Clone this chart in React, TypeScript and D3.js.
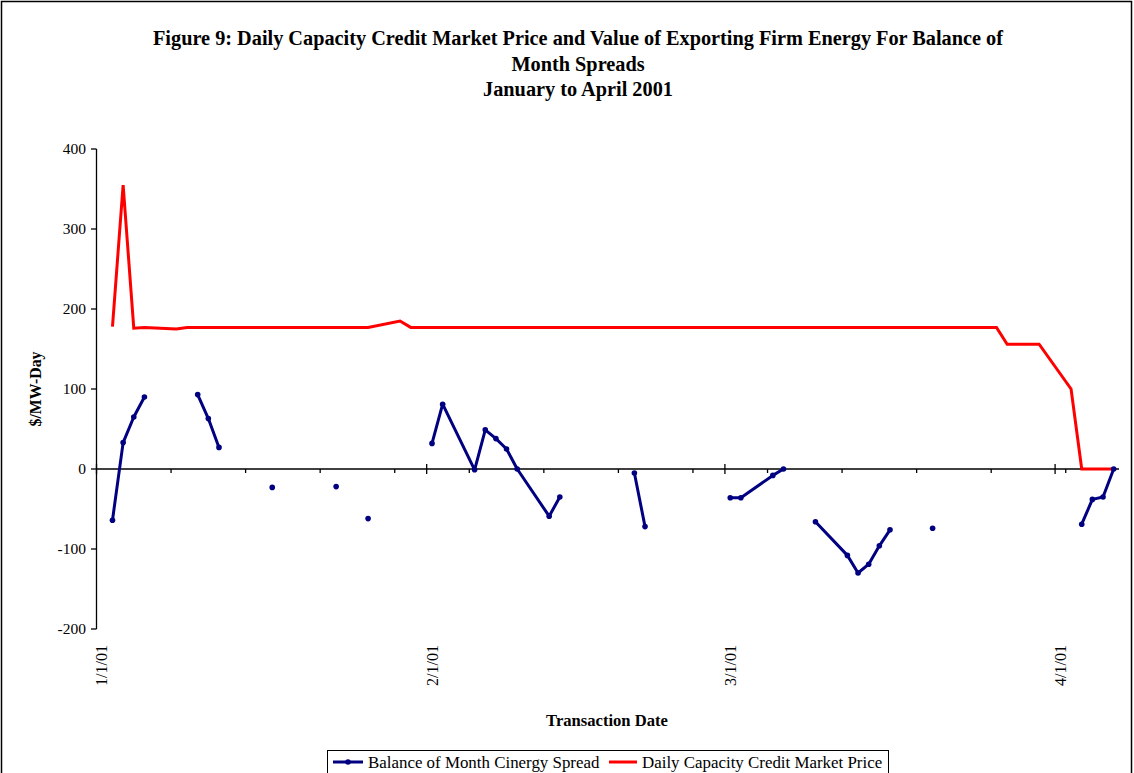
import React from 'react';
import * as d3 from 'd3';

const titleLines = [
  'Figure 9: Daily Capacity Credit Market Price and Value of Exporting Firm Energy For Balance of',
  'Month Spreads',
  'January to April 2001',
];
const yTicks = [-200, -100, 0, 100, 200, 300, 400];
const monthStarts = ['2001-01-01', '2001-02-01', '2001-03-01', '2001-04-01'];
const monthLabels = ['1/1/01', '2/1/01', '3/1/01', '4/1/01'];

const tradeDates = [
  '2001-01-02', '2001-01-03', '2001-01-04', '2001-01-05',
  '2001-01-08', '2001-01-09', '2001-01-10', '2001-01-11', '2001-01-12',
  '2001-01-15', '2001-01-16', '2001-01-17', '2001-01-18', '2001-01-19',
  '2001-01-22', '2001-01-23', '2001-01-24', '2001-01-25', '2001-01-26',
  '2001-01-29', '2001-01-30', '2001-01-31', '2001-02-01', '2001-02-02',
  '2001-02-05', '2001-02-06', '2001-02-07', '2001-02-08', '2001-02-09',
  '2001-02-12', '2001-02-13', '2001-02-14', '2001-02-15', '2001-02-16',
  '2001-02-19', '2001-02-20', '2001-02-21', '2001-02-22', '2001-02-23',
  '2001-02-26', '2001-02-27', '2001-02-28', '2001-03-01', '2001-03-02',
  '2001-03-05', '2001-03-06', '2001-03-07', '2001-03-08', '2001-03-09',
  '2001-03-12', '2001-03-13', '2001-03-14', '2001-03-15', '2001-03-16',
  '2001-03-19', '2001-03-20', '2001-03-21', '2001-03-22', '2001-03-23',
  '2001-03-26', '2001-03-27', '2001-03-28', '2001-03-29', '2001-03-30',
  '2001-04-02', '2001-04-03', '2001-04-04', '2001-04-05', '2001-04-06',
];

// Daily Capacity Credit Market Price
const priceValues: (number | null)[] = [
  178, 355, 176, 177,
  175, 177, 177, 177, 177,
  177, 177, 177, 177, 177,
  177, 177, 177, 177, 177,
  185, 177, 177, 177, 177,
  177, 177, 177, 177, 177,
  177, 177, 177, 177, 177,
  177, 177, 177, 177, 177,
  177, 177, 177, 177, 177,
  177, 177, 177, 177, 177,
  177, 177, 177, 177, 177,
  177, 177, 177, 177, 177,
  177, 156, 156, 156, 156,
  100, 0, 0, 0, 0,
];

// Balance of Month Cinergy Spread
const spreadValues: (number | null)[] = [
  -64, 33, 65, 90,
  null, null, 93, 63, 27,
  null, null, -23, null, null,
  null, -22, null, null, -62,
  null, null, null, 32, 81,
  -1, 49, 38, 25, 0,
  -59, -35, null, null, null,
  null, -5, -72, null, null,
  null, null, null, -36, -36,
  -8, 0, null, null, -66,
  -108, -130, -119, -96, -76,
  null, -74, null, null, null,
  null, null, null, null, null,
  null, -69, -38, -35, 0,
];

const seriesNames = ['Balance of Month Cinergy Spread', 'Daily Capacity Credit Market Price'];
const seriesColors = ['#000080', '#FF0000'];

const FONT = '"Liberation Serif", "Times New Roman", Times, serif';

export default function App() {
  const W = 1134;
  const H = 773;
  const parse = d3.utcParse('%Y-%m-%d');
  const start = parse('2001-01-01') as Date;
  const end = parse('2001-04-07') as Date;

  const x = d3.scaleUtc().domain([start, end]).range([96.5, 1119]);
  const y = d3.scaleLinear().domain([-200, 400]).range([629, 149]);
  const cx = (d: Date) => x(d3.utcHour.offset(d, 12));

  const dates = tradeDates.map((s) => parse(s) as Date);
  const priceData = dates.map((d, i) => ({ d, v: priceValues[i] }));
  const spreadData = dates.map((d, i) => ({ d, v: spreadValues[i] }));

  const line = d3
    .line<{ d: Date; v: number | null }>()
    .defined((p) => p.v !== null)
    .x((p) => cx(p.d))
    .y((p) => y(p.v as number));

  const y0 = y(0);
  const majorTicks = d3.utcMonth.range(start, end);
  const minorTicks = d3.utcMonday
    .range(start, end)
    .filter((d) => !majorTicks.some((m) => +m === +d));

  return (
    <svg
      width={W}
      height={H}
      style={{ position: 'absolute', left: 0, top: 0, display: 'block', background: '#fff' }}
      fontFamily={FONT}
    >
      <rect x={0} y={0} width={W} height={H} fill="#fff" />
      <rect x={1.5} y={1.5} width={1130} height={820} fill="none" stroke="#000" strokeWidth={1.5} />

      {/* Title */}
      {titleLines.map((t, i) => (
        <text
          key={i}
          x={578}
          y={45 + i * 25.5}
          textAnchor="middle"
          fontWeight="bold"
          fontSize={20.3}
          fill="#000"
        >
          {t}
        </text>
      ))}

      {/* Y axis */}
      <line x1={96.5} x2={96.5} y1={y(400)} y2={y(-200)} stroke="#000" strokeWidth={1.3} />
      {yTicks.map((t) => (
        <g key={t}>
          <line x1={91} x2={96.5} y1={y(t)} y2={y(t)} stroke="#000" strokeWidth={1.3} />
          <text x={86} y={y(t)} dy="0.35em" textAnchor="end" fontSize={15.5} fill="#000">
            {t}
          </text>
        </g>
      ))}
      <text
        transform={`translate(41, ${y(100)}) rotate(-90)`}
        textAnchor="middle"
        fontWeight="bold"
        fontSize={15.8}
        fill="#000"
      >
        $/MW-Day
      </text>

      {/* X axis */}
      <line x1={96.5} x2={1119} y1={y0} y2={y0} stroke="#000" strokeWidth={1.3} />
      {majorTicks.map((m, i) => (
        <line key={'M' + i} x1={x(m)} x2={x(m)} y1={y0 - 5} y2={y0 + 5} stroke="#000" strokeWidth={1.3} />
      ))}
      {minorTicks.map((m, i) => (
        <line key={'m' + i} x1={x(m)} x2={x(m)} y1={y0} y2={y0 + 4} stroke="#000" strokeWidth={1.3} />
      ))}
      {monthStarts.map((s, i) => {
        const d = parse(s) as Date;
        return (
          <text
            key={s}
            transform={`translate(${cx(d)}, 645) rotate(-90)`}
            textAnchor="end"
            dominantBaseline="central"
            fontSize={16}
            fill="#000"
          >
            {monthLabels[i]}
          </text>
        );
      })}
      <text x={607} y={726} textAnchor="middle" fontWeight="bold" fontSize={16.6} fill="#000">
        Transaction Date
      </text>

      {/* Series */}
      <path d={line(priceData) || ''} fill="none" stroke={seriesColors[1]} strokeWidth={3} strokeLinejoin="miter" />
      <path d={line(spreadData) || ''} fill="none" stroke={seriesColors[0]} strokeWidth={3} strokeLinejoin="round" />
      {spreadData
        .filter((p) => p.v !== null)
        .map((p, i) => (
          <circle key={i} cx={cx(p.d)} cy={y(p.v as number)} r={2.8} fill={seriesColors[0]} />
        ))}

      {/* Legend */}
      <rect x={327.5} y={750.5} width={561} height={40} fill="#fff" stroke="#000" strokeWidth={1} />
      <line x1={333} x2={363} y1={762} y2={762} stroke={seriesColors[0]} strokeWidth={3} />
      <circle cx={348} cy={762} r={2.8} fill={seriesColors[0]} />
      <text x={368} y={768} fontSize={16.9} fill="#000">
        {seriesNames[0]}
      </text>
      <line x1={609} x2={637} y1={762} y2={762} stroke={seriesColors[1]} strokeWidth={3} />
      <text x={642} y={768} fontSize={16.9} fill="#000">
        {seriesNames[1]}
      </text>
    </svg>
  );
}
